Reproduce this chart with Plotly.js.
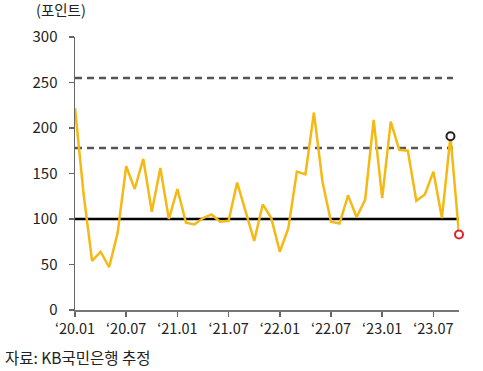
<!DOCTYPE html>
<html>
<head>
<meta charset="utf-8">
<script src="https://cdn.plot.ly/plotly-3.0.1.min.js"></script>
<style>html,body{margin:0;padding:0;background:#fff;}#chart{width:483px;height:371px;}</style>
</head>
<body>
<div id="chart"></div>
<script>
const months = [
  "2020-01","2020-02","2020-03","2020-04","2020-05","2020-06","2020-07","2020-08","2020-09","2020-10","2020-11","2020-12",
  "2021-01","2021-02","2021-03","2021-04","2021-05","2021-06","2021-07","2021-08","2021-09","2021-10","2021-11","2021-12",
  "2022-01","2022-02","2022-03","2022-04","2022-05","2022-06","2022-07","2022-08","2022-09","2022-10","2022-11","2022-12",
  "2023-01","2023-02","2023-03","2023-04","2023-05","2023-06","2023-07","2023-08","2023-09","2023-10"
];
const values = [
  222, 128, 54, 64, 47, 85, 158, 133, 166, 108, 156, 100,
  133, 96, 94, 101, 105, 97, 98, 140, 108, 76, 116, 101,
  64, 90, 152, 149, 217, 141, 97, 95, 126, 102, 121, 209,
  123, 207, 176, 175, 120, 127, 152, 101, 191, 83
];
const tickMonths = ["2020-01","2020-07","2021-01","2021-07","2022-01","2022-07","2023-01","2023-07"];
const tickLabels = ["‘20.01","‘20.07","‘21.01","‘21.07","‘22.01","‘22.07","‘23.01","‘23.07"];
const yTicks = [0, 50, 100, 150, 200, 250, 300];
const thresholds = [255, 178];
const baseline = 100;
const highlightPrev = {month: "2023-09", value: 191};
const highlightLast = {month: "2023-10", value: 83};

const font = "'Noto Sans CJK KR', 'Noto Sans', sans-serif";
const n = months.length;

const traces = [
  {x: months, y: values, type: "scatter", mode: "lines",
   line: {color: "#F4B915", width: 2.5}, hoverinfo: "skip", cliponaxis: false},
  {x: [highlightPrev.month], y: [highlightPrev.value], type: "scatter", mode: "markers",
   marker: {size: 8, color: "#ffffff", line: {color: "#222222", width: 2}}, cliponaxis: false},
  {x: [highlightLast.month], y: [highlightLast.value], type: "scatter", mode: "markers",
   marker: {size: 8, color: "#ffffff", line: {color: "#E0202A", width: 2}}, cliponaxis: false}
];

const shapes = thresholds.map(t => ({
  type: "line", xref: "x", yref: "y", x0: 0, x1: n - 1.7, y0: t, y1: t,
  line: {color: "#555555", width: 2.5, dash: "7px,5px"}, layer: "below"
}));
shapes.push({type: "line", xref: "x", yref: "y", x0: 0, x1: n - 1, y0: baseline, y1: baseline,
  line: {color: "#000000", width: 2.5}, layer: "below"});

const layout = {
  width: 483, height: 371,
  margin: {l: 75, r: 24, t: 37, b: 61},
  paper_bgcolor: "#ffffff", plot_bgcolor: "#ffffff",
  showlegend: false,
  font: {family: font, size: 14, color: "#222"},
  xaxis: {
    type: "category", categoryorder: "array", categoryarray: months,
    range: [0, n - 1],
    tickmode: "array", tickvals: tickMonths, ticktext: tickLabels,
    ticks: "outside", ticklen: 5, tickcolor: "#666", tickwidth: 1.5,
    showline: true, linecolor: "#777", linewidth: 1.5,
    showgrid: false, zeroline: false,
    tickfont: {family: font, size: 14.5, color: "#222"}
  },
  yaxis: {
    range: [0, 300], tickmode: "array", tickvals: yTicks,
    ticks: "outside", ticklen: 5, tickcolor: "#666", tickwidth: 1.5,
    showline: true, linecolor: "#666", linewidth: 1.5,
    showgrid: false, zeroline: false,
    ticklabelstandoff: 8,
    tickfont: {family: font, size: 15, color: "#222"}
  },
  shapes: shapes,
  annotations: [
    {text: "(포인트)", xref: "paper", yref: "paper", x: -0.1, y: 1.1, xanchor: "left", yanchor: "middle",
     xshift: -3, showarrow: false, font: {family: font, size: 14.5, color: "#222"}},
    {text: "자료: KB국민은행 추정", xref: "paper", yref: "paper", x: 0, y: 0, xshift: -72, yshift: -47,
     xanchor: "left", yanchor: "middle", showarrow: false, font: {family: font, size: 15.5, color: "#222"}}
  ]
};

Plotly.newPlot("chart", traces, layout, {displayModeBar: false, staticPlot: true});
</script>
</body>
</html>
